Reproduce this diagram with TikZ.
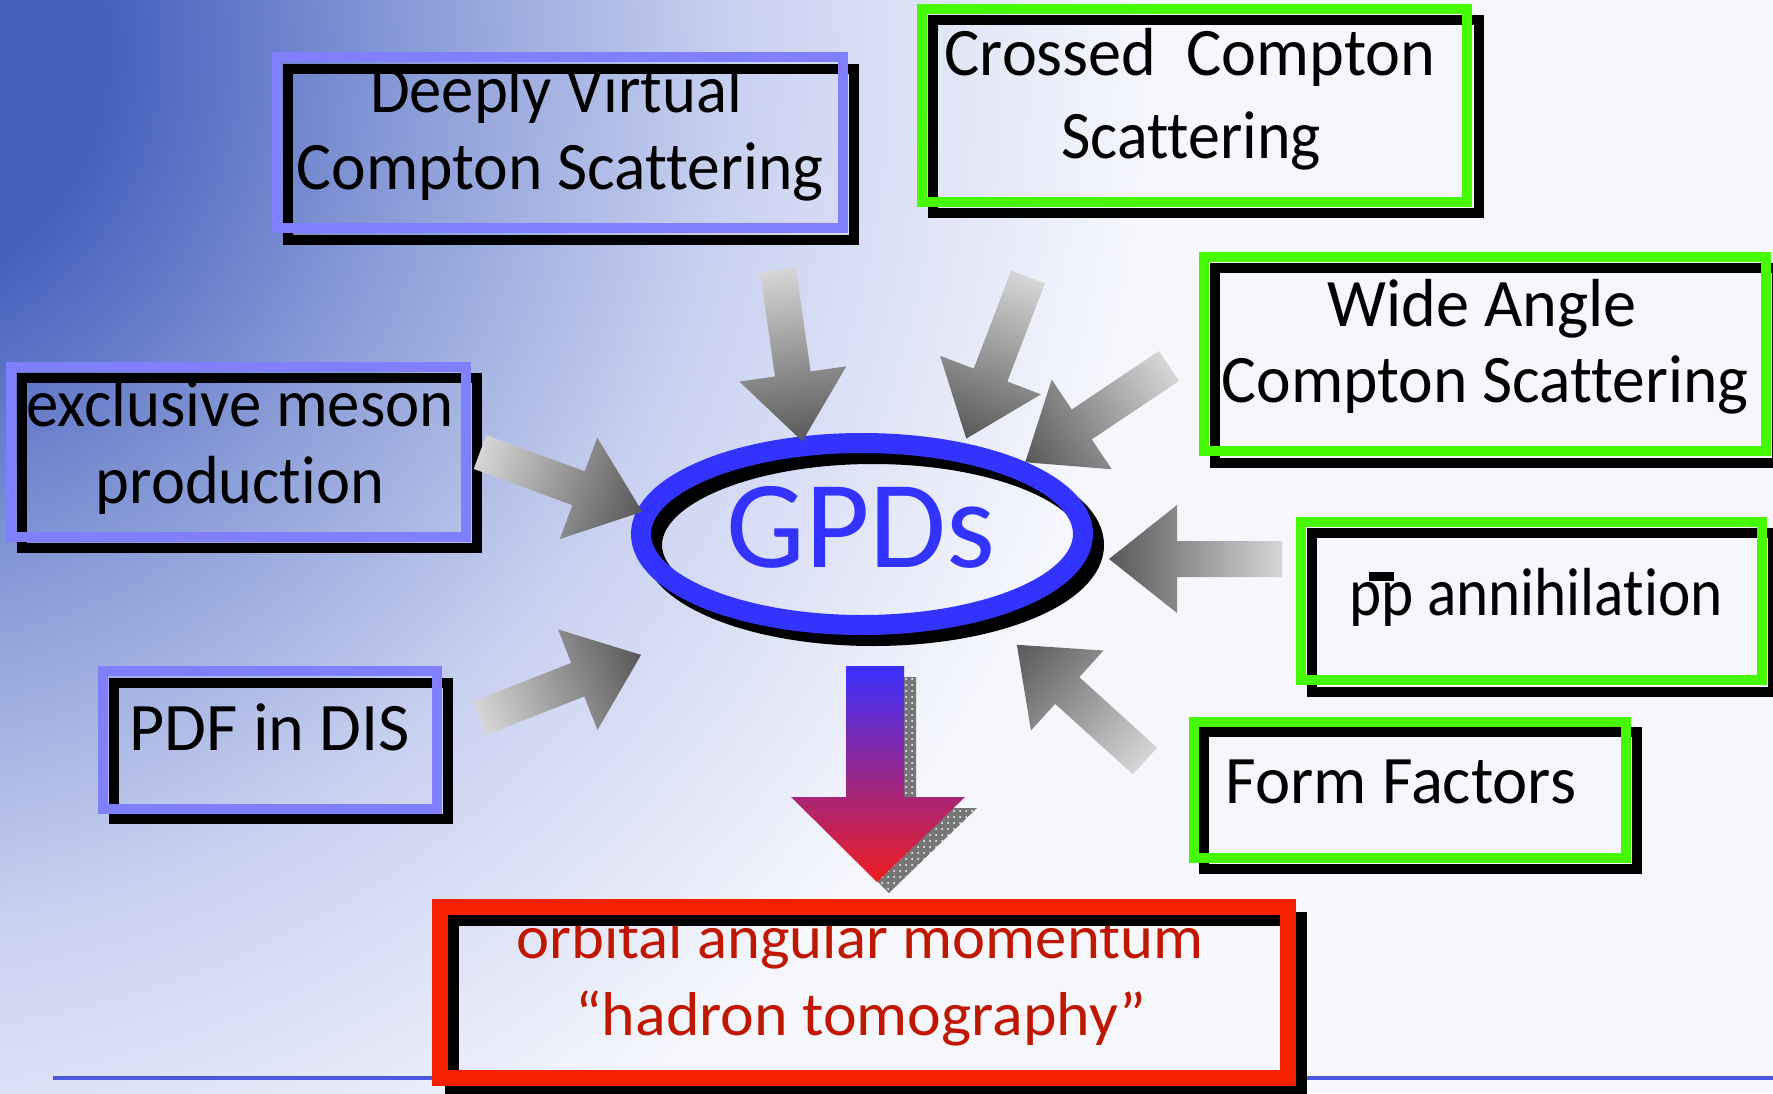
\documentclass[tikz,border=0pt]{standalone}
\usepackage{fontspec}
\setmainfont{Carlito}[Ligatures={NoCommon}]
\usetikzlibrary{shapes.geometric,patterns,fit}
\definecolor{boxblue}{RGB}{128,128,255}
\definecolor{boxgreen}{RGB}{70,250,0}
\definecolor{boxred}{RGB}{245,32,0}
\definecolor{txtred}{RGB}{192,24,0}
\definecolor{gpdblue}{RGB}{51,51,255}
\definecolor{linecol}{RGB}{76,88,224}
\definecolor{bgA}{RGB}{70,96,190}
\definecolor{bgB}{RGB}{140,158,216}
\definecolor{bgC}{RGB}{200,209,240}
\definecolor{bgD}{RGB}{246,247,253}
\definecolor{arrowlight}{RGB}{214,214,214}
\definecolor{arrowdark}{RGB}{88,88,88}
\definecolor{gA}{RGB}{58,48,255}
\definecolor{gB}{RGB}{185,45,200}
\definecolor{gC}{RGB}{240,30,30}
\definecolor{shadowgray}{RGB}{118,118,118}
\pgfdeclareradialshading{bgshade}{\pgfpoint{0bp}{0bp}}{color(0bp)=(bgA); color(5bp)=(bgA); color(11bp)=(bgB); color(17bp)=(bgC); color(25bp)=(bgD); color(50bp)=(bgD)}
\newcommand{\grayarrow}[3]{%
  \begin{scope}[transform canvas={shift={(#1,#2)},rotate=#3}]
    \shade[left color=arrowlight, right color=arrowdark]
      (0,-18) -- (105,-18) -- (105,-54) -- (173,0) -- (105,54) -- (105,18) -- (0,18) -- cycle;
  \end{scope}}
\newcommand{\sx}[2]{\scalebox{#1}[1]{#2}}
\tikzset{
  boxtxt/.style={font=\fontsize{34}{40}\selectfont, anchor=base, inner sep=0pt},
  redtxt/.style={font=\fontsize{31}{37}\selectfont, text=txtred, anchor=base, inner sep=0pt},
  bluefr/.style={draw=boxblue, line width=5pt, inner sep=0pt},
  greenfr/.style={draw=boxgreen, line width=5pt, inner sep=0pt},
  redfr/.style={draw=boxred, line width=8pt, inner sep=0pt},
  shadowfr/.style={draw=black, line width=5pt, inner sep=0pt},
  shadowred/.style={draw=black, line width=7pt, inner sep=0pt},
  gpdring/.style={ellipse, line width=10pt, minimum width=221pt, minimum height=91pt, inner sep=0pt},
}
\begin{document}
\begin{tikzpicture}[x=0.5pt,y=-0.5pt]
\useasboundingbox (0,0) rectangle (1773,1093);
% background
\fill[bgD] (0,0) rectangle (1773,1093);
\begin{scope}
  \clip (0,0) rectangle (1773,1093);
  \shade[shading=bgshade] (-150,50) ellipse [x radius=650pt, y radius=650pt];
\end{scope}
% bottom rule
\draw[linecol, line width=2pt] (53,1078) -- (1773,1078);

% texts
\node[boxtxt] (t1a) at (556,112) {\sx{0.95}{Deeply Virtual}};
\node[boxtxt] (t1b) at (560,189) {\sx{0.963}{Compton Scattering}};
\node[boxtxt] (t2a) at (1190,75) {\sx{0.974}{Crossed\ \ Compton}};
\node[boxtxt] (t2b) at (1191,158) {\sx{0.94}{Scattering}};
\node[boxtxt] (t3a) at (1482,326) {\sx{0.974}{Wide Angle}};
\node[boxtxt] (t3b) at (1485,402) {\sx{0.963}{Compton Scattering}};
\node[boxtxt] (t4a) at (240,426) {\sx{0.953}{exclusive meson}};
\node[boxtxt] (t4b) at (240,503) {\sx{0.947}{production}};
\node[boxtxt] (t5) at (270,750) {PDF in DIS};
\node[boxtxt] (t6) at (1536,615) {\sx{0.9}{\makebox[0pt][l]{\hspace{11pt}\rule[17pt]{14pt}{4.5pt}}pp annihilation}};
\node[boxtxt] (t7) at (1401,803) {\sx{0.98}{Form Factors}};
\node[redtxt] (t8a) at (860,958) {\sx{1.01}{orbital angular momentum}};
\node[redtxt] (t8b) at (861,1035) {\sx{1.03}{“hadron tomography”}};

% frames: shadows then coloured
\node[shadowfr, fit={(288,69) (854,240)}] (dvcsS) {};
\node[bluefr, fit={(277,57) (843,228)}] (dvcs) {};
\node[shadowfr, fit={(933,20) (1479,213)}] (crossS) {};
\node[greenfr, fit={(922,9) (1467,202)}] (cross) {};
\node[shadowfr, fit={(1215,268) (1777,463)}] (wideS) {};
\node[greenfr, fit={(1204,257) (1766,451)}] (wide) {};
\node[shadowfr, fit={(22,378) (477,548)}] (exclS) {};
\node[bluefr, fit={(11,367) (466,537)}] (excl) {};
\node[shadowfr, fit={(114,683) (448,819)}] (pdfS) {};
\node[bluefr, fit={(103,671) (437,809)}] (pdf) {};
\node[shadowfr, fit={(1312,533) (1773,692)}] (ppS) {};
\node[greenfr, fit={(1301,522) (1762,680)}] (pp) {};
\node[shadowfr, fit={(1204,732) (1637,869)}] (ffS) {};
\node[greenfr, fit={(1194,722) (1626,858)}] (ff) {};
\node[shadowred, fit={(452,919) (1300,1090)}] (oamS) {};
\node[redfr, fit={(440,907) (1288,1078)}] (oam) {};

% GPDs ellipse
\node[gpdring, draw=black] (gpdsS) at (873,545) {};
\node[gpdring, draw=gpdblue] (gpds) at (862,534) {};
\node[font=\fontsize{62.5}{70}\selectfont, text=gpdblue, anchor=base, inner sep=0pt] (gpdtxt) at (861,567) {GPDs};

% grey block arrows
\grayarrow{778}{270}{-81.9}
\grayarrow{1028}{277}{-110.9}
\grayarrow{1169}{366}{-146.2}
\grayarrow{1282}{559}{180}
\grayarrow{1145}{761}{137.8}
\grayarrow{480}{452}{-20.2}
\grayarrow{480}{718}{21.4}

% big gradient arrow with dotted shadow
\fill[shadowgray] (858,677) -- (916,677) -- (916,808) -- (977,808) -- (889,893) -- (803,808) -- (858,808) -- cycle;
\fill[pattern=dots, pattern color=white] (858,677) -- (916,677) -- (916,808) -- (977,808) -- (889,893) -- (803,808) -- (858,808) -- cycle;
\shade[top color=gA, middle color=gB, bottom color=gC]
  (846,666) -- (904,666) -- (904,797) -- (965,797) -- (877,882) -- (791,797) -- (846,797) -- cycle;
\end{tikzpicture}
\end{document}
